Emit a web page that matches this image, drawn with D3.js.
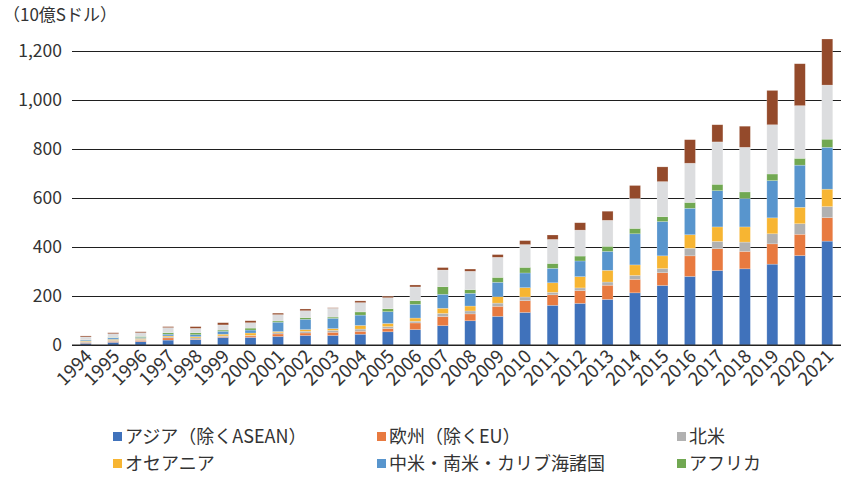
<!DOCTYPE html>
<html>
<head>
<meta charset="utf-8">
<script src="https://cdn.jsdelivr.net/npm/d3@7"></script>
<style>
  body { margin: 0; background: #fff; }
  svg { font-family: "Noto Sans CJK JP", "Noto Sans", sans-serif; }
  .grid line { stroke: #1f1f1f; stroke-width: 1; }
  .grid .domain { display: none; }
</style>
</head>
<body>
<div class="plot"></div>
<script>
var years = ["1994","1995","1996","1997","1998","1999","2000","2001","2002","2003","2004","2005","2006","2007",
             "2008","2009","2010","2011","2012","2013","2014","2015","2016","2017","2018","2019","2020","2021"];

// series values (10億Sドル)
var asia      = [7,11,14,20,22,31,31,35,39,39,44,54,63,79,99,117,133,162,170,186,213,243,280,304,311,330,365,424];
var europe    = [3,4,5,9,2,3,6,10,10,13,12,13,27,37,28,41,48,43,52,58,55,52,84,89,71,83,87,96];
var namerica  = [3,4,4,4,5,3,2,5,7,8,9,8,7,13,12,13,15,10,11,13,16,17,31,30,38,41,43,45];
var oceania   = [3,4,4,4,5,7,10,5,7,7,15,13,13,21,20,26,38,39,46,48,43,52,55,59,62,65,67,71];
var latam     = [4,6,4,7,8,12,12,38,42,42,42,48,56,57,52,59,60,59,64,77,127,140,108,148,116,152,172,171];
var africa    = [1,2,4,6,8,5,8,5,7,5,13,12,15,31,15,20,23,20,20,21,22,20,24,26,27,27,28,33];
var asean     = [12,15,15,21,18,21,22,26,28,36,38,45,56,68,75,82,93,98,106,106,122,143,160,173,182,201,215,221];
var eu        = [4,4,4,4,7,9,8,6,7,2,7,6,8,10,9,11,16,18,30,37,53,60,96,70,86,140,171,188];

var seriesNames  = ["アジア（除くASEAN）","欧州（除くEU）","北米","オセアニア","中米・南米・カリブ海諸国","アフリカ","ASEAN","EU"];
var seriesValues = [asia, europe, namerica, oceania, latam, africa, asean, eu];
var colors       = ["#4072BB","#E87A40","#B1B1B1","#F7B532","#5895CD","#71A852","#DCDDDF","#944A2B"];
var yTicks       = [0,200,400,600,800,1000,1200];

var W = 841, H = 477,
    margin = {top: 51, right: 0, bottom: 132, left: 72},
    width = W - margin.left - margin.right,
    height = H - margin.top - margin.bottom;

var svg = d3.select(".plot").append("svg")
    .attr("width", W)
    .attr("height", H);

var keys = seriesNames.map(function(d, i) { return "s" + i; });
var table = years.map(function(y, j) {
  var row = {year: y};
  keys.forEach(function(k, i) { row[k] = seriesValues[i][j]; });
  return row;
});
var stacked = d3.stack().keys(keys)(table);

var x = d3.scaleBand().domain(years).range([0, width]).paddingInner(0.6).paddingOuter(0.3);
var y = d3.scaleLinear().domain([0, 1200]).range([height, 0]);

var g = svg.append("g").attr("transform", "translate(" + margin.left + "," + margin.top + ")");

// gridlines
g.append("g")
  .attr("class", "grid")
  .call(d3.axisLeft(y).tickValues(yTicks).tickSize(-width).tickFormat(""));

// y labels
g.selectAll(".ylab")
  .data(yTicks)
  .enter().append("text")
  .attr("x", -10)
  .attr("y", function(d) { return y(d); })
  .attr("dy", "0.36em")
  .attr("text-anchor", "end")
  .style("font-size", "17.5px")
  .style("fill", "#333")
  .text(d3.format(",d"));

// bars
g.selectAll(".layer")
  .data(stacked)
  .enter().append("g")
  .attr("fill", function(d, i) { return colors[i]; })
  .selectAll("rect")
  .data(function(d) { return d; })
  .enter().append("rect")
  .attr("x", function(d) { return x(d.data.year); })
  .attr("y", function(d) { return y(d[1]); })
  .attr("width", x.bandwidth())
  .attr("height", function(d) { return y(d[0]) - y(d[1]); })
  .style("stroke", "#fff")
  .style("stroke-opacity", 0.35)
  .style("stroke-width", 0.6);

// baseline
g.append("line")
  .attr("x1", 0).attr("x2", width)
  .attr("y1", y(0)).attr("y2", y(0))
  .style("stroke", "#262626")
  .style("stroke-width", 1.2);

// x labels
g.selectAll(".xlab")
  .data(years)
  .enter().append("text")
  .attr("transform", function(d) {
    return "translate(" + (x(d) + x.bandwidth() / 2 + 3) + "," + (y(0) + 8) + ") rotate(-45)";
  })
  .attr("text-anchor", "end")
  .attr("dy", "0.35em")
  .style("font-size", "18.5px")
  .style("fill", "#333")
  .text(function(d) { return d; });

// unit label
svg.append("text")
  .attr("x", 3)
  .attr("y", 21)
  .style("font-size", "17px")
  .style("fill", "#333")
  .text("（10億Sドル）");

// legend (only the six shown)
var legendX = [113, 377, 677], legendY = [437, 464];
var legend = svg.selectAll(".legend")
  .data(seriesNames.slice(0, 6))
  .enter().append("g")
  .attr("transform", function(d, i) {
    return "translate(" + legendX[i % 3] + "," + legendY[Math.floor(i / 3)] + ")";
  });
legend.append("rect")
  .attr("x", 0).attr("y", -5)
  .attr("width", 9).attr("height", 9)
  .attr("fill", function(d, i) { return colors[i]; });
legend.append("text")
  .attr("x", 12)
  .attr("dy", "0.36em")
  .style("font-size", "18px")
  .style("fill", "#333")
  .text(function(d) { return d; });
</script>
</body>
</html>
